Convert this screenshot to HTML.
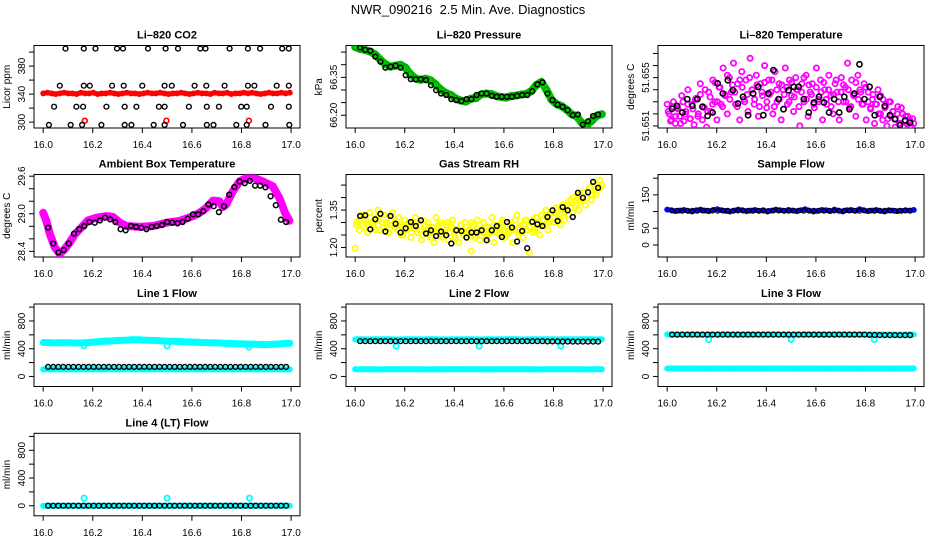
<!DOCTYPE html>
<html><head><meta charset="utf-8"><style>
html,body{margin:0;padding:0;background:#fff;}
svg{display:block;font-family:"Liberation Sans",Arial,sans-serif;}
</style></head><body>
<svg id="chart" width="936" height="540" viewBox="0 0 936 540" xmlns="http://www.w3.org/2000/svg">
<rect width="936" height="540" fill="#fff"/>
<text x="468" y="14" text-anchor="middle" font-size="13" style="white-space:pre">NWR_090216  2.5 Min. Ave. Diagnostics</text>
</svg>
<script>
// ---------- data ----------
const xTicks = [16.0,16.2,16.4,16.6,16.8,17.0];
const xTickLabels = ["16.0","16.2","16.4","16.6","16.8","17.0"];

// CO2
const co2Red = [341,342,341,340,341,342,341,341,340,342,341,341,342,340,341,341,342,341,340,341,342,341,341,340,341,342,341,341,342,341,340,341,341,342,341,340,341,342,341,341,340,342,341,341,342,340,341,341,342,341,342,341,340,341,342,341,341,342,341,342];
const co2RedOutT = [16.168,16.497,16.830];
const co2RedOutV = [302,302,302];
const co2BlackT = [16.090,16.164,16.211,16.298,16.322,16.423,16.494,16.544,16.634,16.655,16.752,16.826,16.875,16.964,16.991,
16.067,16.164,16.188,16.278,16.325,16.400,16.490,16.519,16.611,16.658,16.732,16.826,16.852,16.942,16.991,
16.044,16.134,16.161,16.255,16.329,16.376,16.467,16.490,16.588,16.660,16.709,16.799,16.821,16.919,16.991,
16.023,16.111,16.157,16.235,16.329,16.356,16.446,16.490,16.564,16.660,16.687,16.779,16.821,16.897,16.993];
const co2BlackV = [405,405,405,405,405,405,405,405,405,405,405,405,405,405,405,
352,352,352,352,352,352,352,352,352,352,352,352,352,352,352,
322,322,322,322,322,322,322,322,322,322,322,322,322,322,322,
296,296,296,296,296,296,296,296,296,296,296,296,296,296,296];

// Pressure
const presGreen = [66.470,66.462,66.458,66.452,66.440,66.420,66.402,66.392,66.396,66.400,66.388,66.362,66.345,66.340,66.345,66.338,66.322,66.302,66.288,66.280,66.266,66.258,66.254,66.266,66.268,66.282,66.286,66.284,66.276,66.272,66.270,66.276,66.278,66.282,66.284,66.296,66.320,66.332,66.300,66.262,66.244,66.236,66.222,66.204,66.196,66.170,66.160,66.178,66.198,66.204];
const presBlack = [66.468,66.459,66.455,66.432,66.412,66.388,66.392,66.396,66.388,66.359,66.343,66.342,66.343,66.339,66.319,66.299,66.286,66.280,66.264,66.260,66.256,66.264,66.264,66.280,66.286,66.286,66.277,66.273,66.273,66.273,66.273,66.277,66.280,66.280,66.295,66.322,66.330,66.286,66.260,66.242,66.233,66.220,66.200,66.203,66.163,66.176,66.197,66.203];

// Li-820 temperature
const ltMagenta = [51.6528,51.6520,51.6515,51.6530,51.6512,51.6525,51.6518,51.6535,51.6514,51.6522,
51.6540,51.6516,51.6528,51.6511,51.6533,51.6520,51.6545,51.6515,51.6525,51.6509,
51.6538,51.6522,51.6548,51.6530,51.6515,51.6542,51.6528,51.6558,51.6535,51.6520,
51.6550,51.6538,51.6562,51.6528,51.6545,51.6515,51.6555,51.6532,51.6548,51.6522,
51.6566,51.6540,51.6528,51.6552,51.6518,51.6545,51.6535,51.6560,51.6525,51.6548,
51.6538,51.6520,51.6555,51.6530,51.6545,51.6515,51.6540,51.6558,51.6528,51.6548,
51.6535,51.6522,51.6550,51.6540,51.6510,51.6545,51.6530,51.6552,51.6518,51.6538,
51.6545,51.6525,51.6558,51.6532,51.6548,51.6515,51.6540,51.6528,51.6552,51.6535,
51.6520,51.6545,51.6538,51.6515,51.6550,51.6530,51.6542,51.6562,51.6525,51.6548,
51.6535,51.6518,51.6552,51.6540,51.6528,51.6545,51.6515,51.6538,51.6525,51.6532,
51.6512,51.6528,51.6520,51.6535,51.6515,51.6525,51.6510,51.6530,51.6518,51.6522,
51.6509,51.6520,51.6512,51.6525,51.6510,51.6518,51.6511,51.6515,51.6509,51.6512];
const ltMagenta2 = [51.6522,51.6514,51.6526,51.6518,51.6524,51.6512,51.6530,51.6520,51.6528,51.6516,
51.6524,51.6532,51.6518,51.6536,51.6526,51.6540,51.6522,51.6534,51.6528,51.6546,
51.6530,51.6542,51.6526,51.6536,51.6552,51.6532,51.6544,51.6538,51.6526,51.6548,
51.6542,51.6530,51.6536,51.6550,51.6540,51.6532,51.6544,51.6526,51.6538,51.6546,
51.6530,51.6536,51.6548,51.6526,51.6540,51.6532,51.6544,51.6536,51.6542,51.6530,
51.6546,51.6534,51.6540,51.6526,51.6538,51.6550,51.6532,51.6544,51.6536,51.6528,
51.6542,51.6530,51.6538,51.6546,51.6532,51.6540,51.6526,51.6536,51.6548,51.6530,
51.6538,51.6544,51.6530,51.6540,51.6526,51.6536,51.6546,51.6532,51.6538,51.6528,
51.6542,51.6530,51.6524,51.6536,51.6528,51.6540,51.6520,51.6532,51.6526,51.6516,
51.6530,51.6522,51.6516,51.6526,51.6512,51.6520,51.6514,51.6518,51.6510,51.6516];
const ltBlack = [51.65244,51.65266,51.65211,51.65322,51.65266,51.65322,51.65258,51.65183,51.65211,51.65452,
51.65369,51.65479,51.65396,51.65286,51.65341,51.65189,51.65369,51.65424,51.65189,51.65369,
51.65562,51.65322,51.65239,51.65396,51.65424,51.65424,51.65322,51.65211,51.65294,51.65341,
51.65294,51.65211,51.65322,51.65211,51.65341,51.65239,51.65369,51.6561,51.65322,51.65424,
51.65189,51.65341,51.65266,51.65189,51.65156,51.65106,51.65147,51.65128];

// Ambient box temperature
const ambMagT = [16.000,16.013,16.027,16.047,16.067,16.087,16.107,16.128,16.154,16.181,16.215,16.255,16.282,16.309,16.336,16.389,16.443,16.497,16.550,16.604,16.631,16.658,16.685,16.711,16.725,16.738,16.765,16.792,16.819,16.846,16.886,16.926,16.953,16.975,16.993];
const ambMagV = [29.016,28.884,28.674,28.463,28.358,28.437,28.542,28.674,28.779,28.895,28.937,28.963,28.948,28.858,28.805,28.790,28.805,28.858,28.884,28.963,29.016,29.095,29.211,29.200,29.106,29.148,29.358,29.516,29.569,29.580,29.516,29.440,29.250,29.020,28.890];
const ambBlack = [28.779,28.526,28.384,28.421,28.526,28.684,28.753,28.805,28.869,28.858,28.895,28.937,28.911,28.869,28.753,28.737,28.805,28.790,28.779,28.753,28.790,28.805,28.821,28.869,28.858,28.848,28.869,28.921,28.990,28.990,29.042,29.148,29.121,29.027,29.121,29.306,29.427,29.516,29.490,29.527,29.448,29.448,29.422,29.279,29.137,28.906,28.869];

// Gas stream RH
const rhYellow = [1.197,1.30,1.27,1.33,1.29,1.31,1.26,1.34,1.30,1.28,
1.32,1.35,1.27,1.30,1.33,1.29,1.26,1.31,1.34,1.28,
1.30,1.32,1.25,1.29,1.31,1.27,1.30,1.24,1.28,1.32,
1.26,1.29,1.23,1.31,1.27,1.30,1.25,1.28,1.22,1.32,
1.27,1.30,1.24,1.26,1.29,1.23,1.28,1.31,1.25,1.27,
1.22,1.29,1.26,1.30,1.24,1.27,1.185,1.29,1.25,1.31,
1.23,1.27,1.30,1.24,1.28,1.26,1.32,1.22,1.27,1.29,
1.25,1.31,1.24,1.28,1.26,1.30,1.22,1.27,1.33,1.25,
1.29,1.24,1.31,1.27,1.18,1.30,1.26,1.32,1.28,1.25,
1.33,1.29,1.35,1.27,1.31,1.34,1.30,1.36,1.32,1.29,
1.35,1.31,1.37,1.33,1.39,1.34,1.36,1.40,1.35,1.38,
1.42,1.37,1.40,1.44,1.39,1.46,1.41,1.43,1.47,1.45];
const rhYellow2 = [1.29,1.31,1.33,1.28,1.30,1.32,1.29,1.27,1.31,1.33,
1.28,1.30,1.26,1.29,1.31,1.27,1.29,1.25,1.28,1.30,
1.26,1.28,1.30,1.27,1.25,1.29,1.27,1.24,1.28,1.26,
1.29,1.25,1.27,1.30,1.26,1.28,1.24,1.27,1.29,1.25,
1.28,1.26,1.30,1.24,1.27,1.29,1.26,1.28,1.25,1.27,
1.29,1.26,1.28,1.30,1.27,1.25,1.29,1.27,1.31,1.28,
1.26,1.29,1.31,1.28,1.30,1.27,1.32,1.29,1.31,1.33,
1.30,1.34,1.32,1.35,1.33,1.37,1.34,1.38,1.36,1.40,
1.37,1.41,1.39,1.42,1.40,1.44,1.41,1.43,1.45,1.44];
const rhBlack = [1.326,1.329,1.273,1.313,1.335,1.264,1.326,1.295,1.260,1.277,1.302,1.286,1.309,1.256,1.269,1.246,1.264,1.249,1.216,1.269,1.266,1.240,1.260,1.260,1.269,1.229,1.269,1.286,1.242,1.302,1.280,1.224,1.266,1.197,1.303,1.293,1.286,1.322,1.349,1.306,1.362,1.349,1.322,1.419,1.399,1.421,1.463,1.439];

// Sample flow
const sfBlue = [106,104,101,103,105,102,100,104,106,103,101,105,107,104,102,100,103,106,104,101,103,105,102,104,100,103,106,104,102,105,103,101,104,107,103,100,102,105,104,101,106,103,100,104,105,102,107,104,101,103,105,102,100,104,103,101,102,104,103,105];
const sfBlack = [103,103,102,103,103,102,103,103,103,102,103,103,102,103,103,103,102,103,103,102,103,103,103,102,103,103,102,103,103,103,102,103,103,102,103,103,103,102,103,103,102,103,103,103,102,103,103,102];

// Line flows
const l1Hi = [490,488,485,484,486,487,485,483,482,484,486,490,495,500,505,510,512,515,520,522,525,528,530,528,525,522,520,518,515,512,510,508,505,503,500,498,495,493,490,488,486,484,482,480,478,476,474,472,470,468,466,464,462,460,462,464,468,472,476,480];
const l1Lo = [104,102,106,103,105,101,104,106,103,102,105,104,101,106,103,104,102,105,103,106,104,101,103,105,104,102,106,103,104,105,102,104,106,103,101,104,105,103,102,104];
const l1Black = [138,138,137,138,138,138,137,138,138,138,138,137,138,138,138,138,137,138,138,138,138,137,138,138,138,138,137,138,138,138,138,137,138,138,138,138,137,138,138,138,138,137,138,138,138,138,137,138];
const l1OutT = [16.165,16.500,16.830];
const l1OutV = [445,440,425];

const l2Hi = [535,537,533,536,534,538,535,533,536,537,534,535,538,536,533,535,537,534,536,535,533,537,535,534,536,538,535,533,536,534,537,535,533,536,535,534,537,536,533,535];
const l2Lo = [104,103,105,104,102,104,106,103,104,105,103,104,102,105,104,103,106,104,103,104,105,102,104,103,105,104,103,106,104,102,104,105,103,104,105,103,104,102,105,104];
const l2Black = [509,509,508,509,509,509,508,509,509,509,509,508,509,509,509,509,508,509,509,509,509,508,509,509,509,509,508,509,509,509,509,508,509,509,509,509,508,506,505,505,504,504,503,503,503,503,502,502];
const l2OutT = [16.165,16.500,16.830];
const l2OutV = [438,438,438];

const l3Hi = [606,604,605,603,606,604,605,604,603,606,604,605,604,606,603,605,604,606,604,603,605,604,606,604,605,603,604,606,605,604,603,605,604,606,604,605,603,604,605,604];
const l3Lo = [114,114,113,115,114,114,113,114,115,114,113,114,114,115,114,113,114,114,115,114,113,114,114,115,114,113,114,114,115,114,113,114,114,115,114,113,114,114,115,114];
const l3Black = [604,604,604,603,604,604,604,604,603,604,604,604,604,603,604,604,604,604,603,604,604,604,604,603,604,604,604,604,603,604,604,604,604,603,604,604,604,604,603,600,598,597,597,596,596,595,595,596];
const l3OutT = [16.167,16.500,16.835];
const l3OutV = [533,533,533];

const l4Cyan = [0,1,0,0,1,0,0,0,1,0,0,0,1,0,0,0,0,1,0,0,0,1,0,0,0,0,1,0,0,0,1,0,0,0,0,1,0,0,0,0];
const l4Black = [0,0,0,0,0,0,0,0,0,0,0,0,0,0,0,0,0,0,0,0,0,0,0,0,0,0,0,0,0,0,0,0,0,0,0,0,0,0,0,0,0,0,0,0,0,0,0,0];
const l4OutT = [16.165,16.500,16.832];
const l4OutV = [110,110,110];

// axis tick arrays
const co2Ticks=[300,320,340,360,380,400], co2Labels=["300","","340","","380",""];
const presTicks=[66.20,66.25,66.30,66.35,66.40,66.45], presLabels=["66.20","","","66.35","",""];
const ltTicks=[51.651,51.652,51.653,51.654,51.655,51.656,51.657], ltLabels=["51.651","","","","51.655","",""];
const ambTicks=[28.4,28.6,28.8,29.0,29.2,29.4,29.6], ambLabels=["28.4","","","29.0","","","29.6"];
const rhTicks=[1.20,1.25,1.30,1.35,1.40,1.45], rhLabels=["1.20","","","1.35","",""];
const sfTicks=[0,50,100,150,200], sfLabels=["0","50","","150",""];
const flowTicks=[0,200,400,600,800,1000], flowLabels=["0","","400","","800",""];

// ---------- drawing ----------
const NS="http://www.w3.org/2000/svg";
const svg=document.getElementById('chart');
const colX=[34,346,658], W=266, rowY=[45.5,174.5,304,433.3], H=82.5;
const XLIM=[15.963,17.036];

function el(tag, attrs, parent){
  const e=document.createElementNS(NS,tag);
  for(const k in attrs) e.setAttribute(k,attrs[k]);
  (parent||svg).appendChild(e); return e;
}
function regTimes(n,a,b){const t=[];for(let i=0;i<n;i++)t.push(a+(b-a)*i/(n-1));return t;}

function panel(name,col,row,title,ylab,ylim,yt,yl){
  const x0=colX[col], y0=rowY[row];
  const g=el('g',{});
  
  
  const sx=v=>x0+(v-XLIM[0])/(XLIM[1]-XLIM[0])*W;
  const sy=v=>y0+H-(v-ylim[0])/(ylim[1]-ylim[0])*H;
  const t=el('text',{x:x0+W/2,y:y0-7,'text-anchor':'middle','font-size':'11','font-weight':'bold'},g);
  t.textContent=title;
  
  
  const box=el('rect',{x:x0,y:y0,width:W,height:H,fill:'none',stroke:'#000','stroke-width':1},g);
  
  
  const xa=el('g',{},g);
  
  
  xTicks.forEach((v,i)=>{
    el('line',{x1:sx(v),x2:sx(v),y1:y0+H,y2:y0+H+5,stroke:'#000'},xa);
    const tl=el('text',{x:sx(v),y:y0+H+20,'text-anchor':'middle','font-size':'10'},xa);
    tl.textContent=xTickLabels[i];
    
    
  });
  const ya=el('g',{},g);
  
  
  yt.forEach((v,i)=>{
    const yy=sy(v);
    el('line',{x1:x0-5,x2:x0,y1:yy,y2:yy,stroke:'#000'},ya);
    if(yl[i]){
      const tl=el('text',{x:x0-9,y:yy,'text-anchor':'middle','font-size':'10',transform:`rotate(-90 ${x0-9} ${yy})`},ya);
      tl.textContent=yl[i];
      
      
    }
  });
  const yt2=el('text',{x:x0-24,y:y0+H/2,'text-anchor':'middle','font-size':'10',transform:`rotate(-90 ${x0-24} ${y0+H/2})`},g);
  yt2.textContent=ylab;
  
  
  const clipId='clip-'+name;
  const cp=el('clipPath',{id:clipId},g); el('rect',{x:x0,y:y0,width:W,height:H},cp);
  const plot=el('g',{'clip-path':`url(#${clipId})`},g);
  return {sx,sy,plot,name};
}
function band(p,ts,vs,color,w,label){
  const pts=ts.map((t,i)=>p.sx(t).toFixed(1)+','+p.sy(vs[i]).toFixed(1)).join(' ');
  const pl=el('polyline',{points:pts,fill:'none',stroke:color,'stroke-width':w,'stroke-linejoin':'round','stroke-linecap':'round'},p.plot);
  
  
}
function pts(p,ts,vs,color,r,sw,label){
  const g=el('g',{},p.plot);
  
  
  ts.forEach((t,i)=>{
    el('circle',{cx:p.sx(t).toFixed(1),cy:p.sy(vs[i]).toFixed(1),r:r,fill:'none',stroke:color,'stroke-width':sw},g);
  });
}
const BT=n=>regTimes(n,16.02,16.98);
const CT=n=>regTimes(n,16.0,16.995);

// 1 CO2
let p=panel('co2',0,0,'Li\u2013820 CO2','Licor ppm',[291.6,409.4],co2Ticks,co2Labels);
band(p,CT(co2Red.length),co2Red,'#f00',5,'red');
pts(p,CT(co2Red.length),co2Red,'#f00',2.2,1.5,'red');
pts(p,co2RedOutT,co2RedOutV,'#f00',2.4,1.6,'red-outlier');
pts(p,co2BlackT,co2BlackV,'#000',2.4,1.4,'black');
// 2 Pressure
p=panel('pressure',1,0,'Li\u2013820 Pressure','kPa',[66.1495,66.476],presTicks,presLabels);
band(p,CT(presGreen.length),presGreen,'#0c0',8,'green');
pts(p,CT(presGreen.length),presGreen,'#0a0',3,1.5,'green');
pts(p,BT(presBlack.length),presBlack,'#000',2.4,1.5,'black');
// 3 Li temp
p=panel('li-temp',2,0,'Li\u2013820 Temperature','degrees C',[51.65083,51.65766],ltTicks,ltLabels);
pts(p,CT(ltMagenta.length),ltMagenta,'#f0f',2.6,1.8,'magenta');
pts(p,regTimes(ltMagenta2.length,16.004,16.99),ltMagenta2,'#f0f',2.6,1.8,'magenta-2');
pts(p,BT(ltBlack.length),ltBlack,'#000',2.6,1.6,'black');
// 4 Ambient
p=panel('ambient-temp',0,1,'Ambient Box Temperature','degrees C',[28.31,29.627],ambTicks,ambLabels);
band(p,ambMagT,ambMagV,'#f0f',8,'magenta');
pts(p,BT(ambBlack.length),ambBlack,'#000',2.4,1.5,'black');
// 5 RH
p=panel('gas-rh',1,1,'Gas Stream RH','percent',[1.1618,1.4925],rhTicks,rhLabels);
pts(p,CT(rhYellow.length),rhYellow,'#ff0',2.6,1.8,'yellow');
pts(p,regTimes(rhYellow2.length,16.005,16.99),rhYellow2,'#ff0',2.6,1.8,'yellow-2');
pts(p,BT(rhBlack.length),rhBlack,'#000',2.4,1.5,'black');
// 6 Sample flow
p=panel('sample-flow',2,1,'Sample Flow','ml/min',[-36,211],sfTicks,sfLabels);
band(p,CT(sfBlue.length),sfBlue,'#00f',5,'blue');
pts(p,CT(sfBlue.length),sfBlue,'#00f',2.2,1.5,'blue');
pts(p,BT(sfBlack.length),sfBlack,'#000',2.2,1.3,'black');
// 7 Line 1
p=panel('line1-flow',0,2,'Line 1 Flow','ml/min',[-145,1045],flowTicks,flowLabels);
band(p,CT(l1Hi.length),l1Hi,'#0ff',7,'cyan-high');
band(p,CT(l1Lo.length),l1Lo,'#0ff',6,'cyan-low');
pts(p,l1OutT,l1OutV,'#0ff',2.6,1.8,'cyan-outlier');
pts(p,BT(l1Black.length),l1Black,'#000',2.4,1.4,'black');
// 8 Line 2
p=panel('line2-flow',1,2,'Line 2 Flow','ml/min',[-145,1045],flowTicks,flowLabels);
band(p,CT(l2Hi.length),l2Hi,'#0ff',6,'cyan-high');
band(p,CT(l2Lo.length),l2Lo,'#0ff',6,'cyan-low');
pts(p,l2OutT,l2OutV,'#0ff',2.6,1.8,'cyan-outlier');
pts(p,BT(l2Black.length),l2Black,'#000',2.4,1.4,'black');
// 9 Line 3
p=panel('line3-flow',2,2,'Line 3 Flow','ml/min',[-145,1045],flowTicks,flowLabels);
band(p,CT(l3Hi.length),l3Hi,'#0ff',6,'cyan-high');
band(p,CT(l3Lo.length),l3Lo,'#0ff',6,'cyan-low');
pts(p,l3OutT,l3OutV,'#0ff',2.6,1.8,'cyan-outlier');
pts(p,BT(l3Black.length),l3Black,'#000',2.4,1.4,'black');
// 10 Line 4
p=panel('line4-flow',0,3,'Line 4 (LT) Flow','ml/min',[-145,1045],flowTicks,flowLabels);
band(p,CT(l4Cyan.length),l4Cyan,'#0ff',6,'cyan');
pts(p,l4OutT,l4OutV,'#0ff',2.6,1.8,'cyan-outlier');
pts(p,BT(l4Black.length),l4Black,'#000',2.4,1.4,'black');
</script>
</body></html>
